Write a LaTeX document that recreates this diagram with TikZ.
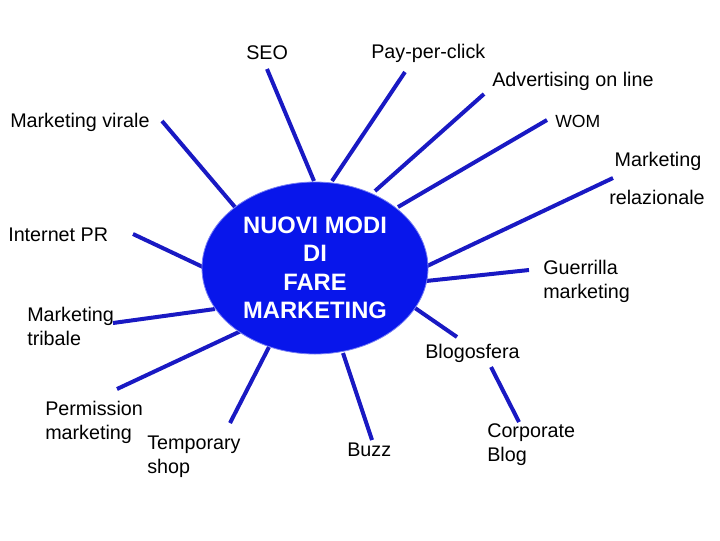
\documentclass[tikz,border=0pt]{standalone}
\usepackage{fontspec}
\setmainfont{Liberation Sans}
\usetikzlibrary{shapes.geometric}
\definecolor{spoke}{RGB}{25,25,195}
\definecolor{hubblue}{RGB}{8,22,235}
\begin{document}
\begin{tikzpicture}[x=0.75pt,y=-0.75pt,
  lbl/.style={inner sep=0pt,anchor=west,font=\fontsize{14.8}{18}\selectfont,align=left},
  spokeline/.style={draw=spoke,line width=3pt},
  hubnode/.style={ellipse,fill=hubblue,draw=hubblue!55!white,line width=0.6pt,
    minimum width=169.5pt,minimum height=129pt,inner sep=0pt,text=white,
    font=\bfseries\fontsize{17.8}{21.4}\selectfont,align=center}]
\useasboundingbox (0,0) rectangle (720,540);

% labels
\node[lbl] (seo) at (246,53) {SEO};
\node[lbl] (ppc) at (371,53) {Pay-per-click};
\node[lbl] (adv) at (492,81) {Advertising on line};
\node[lbl,font=\fontsize{13.2}{16}\selectfont] (wom) at (555,121) {WOM};
\node[lbl] (vir) at (10,122) {Marketing virale};
\node[lbl,anchor=center] (rel1) at (658,161) {Marketing};
\node[lbl,anchor=center] (rel2) at (657,197) {relazionale};
\node[lbl] (ipr) at (8,235) {Internet PR};
\node[lbl] (gue) at (543,281) {Guerrilla\\marketing};
\node[lbl] (tri) at (27,326) {Marketing\\tribale};
\node[lbl] (blo) at (425,353) {Blogosfera};
\node[lbl] (per) at (45,422) {Permission\\marketing};
\node[lbl] (tem) at (147,457) {Temporary\\shop};
\node[lbl] (buz) at (347,450) {Buzz};
\node[lbl] (cor) at (487,445) {Corporate\\Blog};

% spoke end points
\coordinate (vA) at (162,121);  \coordinate (vB) at (240,213);
\coordinate (sA) at (267,69);   \coordinate (sB) at (314,181);
\coordinate (pA) at (405,72);   \coordinate (pB) at (332,181);
\coordinate (aA) at (484,94);   \coordinate (aB) at (375,191);
\coordinate (wA) at (547,120);  \coordinate (wB) at (398,207);
\coordinate (rA) at (613,178);  \coordinate (rB) at (425,267);
\coordinate (gA) at (529,270);  \coordinate (gB) at (426,281);
\coordinate (bA) at (457,337);  \coordinate (bB) at (415,308);
\coordinate (zA) at (372,440);  \coordinate (zB) at (343,353);
\coordinate (cA) at (519,422);  \coordinate (cB) at (491,367);
\coordinate (tA) at (230,423);  \coordinate (tB) at (269,347);
\coordinate (eA) at (117,389);  \coordinate (eB) at (241,331);
\coordinate (mA) at (113,323);  \coordinate (mB) at (215,309);
\coordinate (iA) at (133,234);  \coordinate (iB) at (205,268);

\foreach \s in {v,s,p,a,w,r,g,b,z,c,t,e,m,i}
  \draw[spokeline] (\s A) -- (\s B);

\node[hubnode] (hub) at (315,268) {NUOVI MODI\\DI\\FARE\\MARKETING};
\end{tikzpicture}
\end{document}
